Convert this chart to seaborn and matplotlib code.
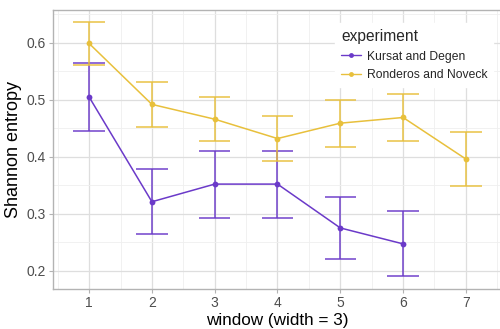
import matplotlib
matplotlib.use("Agg")
import matplotlib.pyplot as plt
import seaborn as sns
import pandas as pd
import numpy as np
from matplotlib.ticker import MultipleLocator

windows_kd = [1, 2, 3, 4, 5, 6]
mean_kd = [0.505, 0.321, 0.352, 0.352, 0.275, 0.247]
upper_kd = [0.565, 0.379, 0.410, 0.410, 0.330, 0.304]
lower_kd = [0.446, 0.264, 0.293, 0.293, 0.220, 0.190]

windows_rn = [1, 2, 3, 4, 5, 6, 7]
mean_rn = [0.599, 0.492, 0.466, 0.432, 0.459, 0.469, 0.396]
upper_rn = [0.636, 0.531, 0.505, 0.471, 0.499, 0.511, 0.443]
lower_rn = [0.562, 0.453, 0.427, 0.393, 0.418, 0.428, 0.349]

experiments = ["Kursat and Degen", "Ronderos and Noveck"]
colors = {"Kursat and Degen": "#6b3ac9", "Ronderos and Noveck": "#e8c03c"}

df = pd.concat([
    pd.DataFrame({"window": windows_kd, "entropy": mean_kd, "lo": lower_kd, "hi": upper_kd,
                  "experiment": experiments[0]}),
    pd.DataFrame({"window": windows_rn, "entropy": mean_rn, "lo": lower_rn, "hi": upper_rn,
                  "experiment": experiments[1]}),
], ignore_index=True)

sns.set_theme(style="white")
plt.rcParams["font.family"] = ["Liberation Sans", "DejaVu Sans"]

fig = plt.figure(figsize=(5.0, 3.29), dpi=100)
ax = fig.add_axes([0.106, 0.122, 0.898, 0.848])

ax.set_xlim(0.425, 7.575)
ax.set_ylim(0.168, 0.658)
ax.xaxis.set_major_locator(MultipleLocator(1))
ax.xaxis.set_minor_locator(MultipleLocator(0.5))
ax.yaxis.set_major_locator(MultipleLocator(0.1))
ax.yaxis.set_minor_locator(MultipleLocator(0.05))
ax.grid(True, which="major", color="#dedede", linewidth=0.9)
ax.grid(True, which="minor", color="#efefef", linewidth=0.6)
ax.set_axisbelow(True)

half = 0.25
for exp in experiments:
    d = df[df["experiment"] == exp]
    c = colors[exp]
    ax.vlines(d["window"], d["lo"], d["hi"], color=c, alpha=0.75, linewidth=1.4, zorder=2)
    ax.hlines(d["lo"], d["window"] - half, d["window"] + half, color=c, alpha=0.75, linewidth=1.4, zorder=2)
    ax.hlines(d["hi"], d["window"] - half, d["window"] + half, color=c, alpha=0.75, linewidth=1.4, zorder=2)

sns.lineplot(data=df, x="window", y="entropy", hue="experiment", hue_order=experiments,
             palette=colors, marker="o", markersize=4.2, markeredgewidth=0,
             linewidth=1.1, ax=ax, zorder=3)

for s in ax.spines.values():
    s.set_color("#b3b3b3")
    s.set_linewidth(1.0)

ax.tick_params(axis="both", which="major", length=3, width=0.8, color="#b3b3b3",
               labelsize=10, labelcolor="#4d4d4d", pad=2, bottom=True, left=True)
ax.tick_params(axis="both", which="minor", length=0)
ax.set_yticks([0.2, 0.3, 0.4, 0.5, 0.6])
ax.set_yticklabels(["0.2", "0.3", "0.4", "0.5", "0.6"])
ax.set_xticks([1, 2, 3, 4, 5, 6, 7])

ax.set_xlabel("window (width = 3)", fontsize=12.3, color="black", labelpad=2.5)
ax.set_ylabel("Shannon entropy", fontsize=13, color="black", labelpad=3.5)

leg = ax.legend(title="experiment", loc="upper left", bbox_to_anchor=(0.615, 0.975),
                frameon=True, fontsize=8.7, title_fontsize=11.2, handlelength=1.6,
                handletextpad=0.5, labelspacing=0.55, borderpad=0.5)
leg.get_frame().set_facecolor("white")
leg.get_frame().set_edgecolor("white")
leg.get_frame().set_alpha(1)
leg._legend_box.align = "left"
for h in leg.legend_handles:
    h.set_markersize(3.5)
    h.set_linewidth(1.0)

fig.savefig("out.png", dpi=100)
